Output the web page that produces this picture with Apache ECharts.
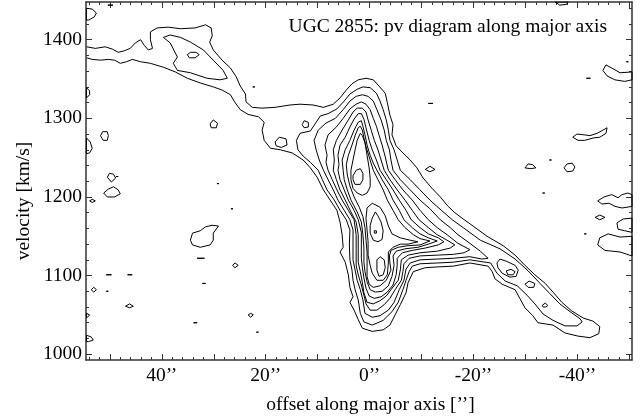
<!DOCTYPE html>
<html><head><meta charset="utf-8">
<script src="https://cdn.jsdelivr.net/npm/echarts@6/dist/echarts.min.js"></script>
<style>html,body{margin:0;padding:0;background:#fff}#c{width:641px;height:419px}</style>
</head><body><div id="c"></div>
<script>
// ---------------- axis values ----------------
const offsetRange = [-50.5, 54.6];
const velocityRange = [992.6, 1448];
const offsetLabels = [40, 20, 0, -20, -40];
const offsetMajorTicks = [50, 40, 30, 20, 10, 0, -10, -20, -30, -40, -50];
const velocityLabels = [1000, 1100, 1200, 1300, 1400];

// ---------------- contours [offset ", velocity km/s] ----------------
// lowest level: arm + body + tail (open at left edge)
const level1 = [[54.5,1391],[52.8,1389],[50.9,1391],[49.5,1388],[48.4,1384],[47.2,1386],[46.1,1389],[45.1,1396],[44.1,1400],[43.4,1393],[42.6,1387],[41.8,1389],[42.2,1400],[42.2,1410],[40.9,1415],[38.8,1416],[36.4,1414],[33.6,1415],[31.6,1419],[30.5,1415],[30.3,1405],[30.8,1397],[30.1,1387],[28.4,1374],[26.8,1364],[25.7,1353],[24.9,1341],[23.9,1331],[23.8,1321],[22.6,1314],[20.7,1313],[18.2,1314],[15.3,1317],[13.4,1318],[10.9,1317],[8.9,1314],[7.0,1318],[5.7,1326],[4.5,1336],[3.4,1344],[2.2,1349],[0.7,1351],[-0.7,1349],[-1.8,1341],[-3.0,1332],[-3.4,1320],[-3.9,1304],[-4.5,1292],[-4.3,1279],[-5.1,1265],[-6.4,1256],[-7.8,1247],[-9.1,1237],[-10.3,1224],[-12.0,1211],[-13.6,1200],[-15.1,1188],[-16.4,1180],[-18.0,1172],[-19.9,1163],[-22.6,1150],[-25.7,1138],[-28.0,1126],[-29.9,1113],[-31.8,1101],[-33.8,1090],[-35.3,1079],[-37.0,1066],[-38.9,1055],[-41.1,1046],[-43.0,1042],[-44.3,1035],[-44.1,1026],[-42.4,1021],[-40.1,1023],[-37.6,1027],[-35.3,1037],[-32.4,1040],[-31.4,1049],[-29.9,1059],[-28.9,1071],[-28.0,1082],[-25.5,1089],[-24.1,1096],[-23.6,1105],[-22.8,1112],[-19.3,1116],[-16.1,1112],[-13.0,1111],[-10.7,1110],[-8.4,1105],[-7.4,1091],[-7.0,1078],[-5.9,1063],[-4.9,1050],[-3.9,1037],[-2.6,1031],[-0.5,1029],[1.4,1033],[2.2,1044],[3.0,1056],[3.8,1066],[3.2,1073],[3.8,1085],[4.1,1101],[4.7,1117],[5.7,1130],[5.1,1136],[5.3,1152],[5.7,1168],[6.3,1183],[7.6,1196],[8.9,1209],[10.1,1225],[11.4,1237],[12.8,1247],[14.9,1256],[17.2,1260],[19.1,1262],[20.3,1272],[20.7,1285],[20.3,1295],[21.4,1302],[23.4,1305],[24.9,1311],[26.0,1321],[26.8,1330],[28.4,1336],[30.1,1340],[32.6,1345],[35.1,1351],[37.4,1359],[39.7,1365],[42.2,1370],[44.1,1372],[45.7,1375],[46.8,1372],[48.0,1370],[49.1,1374],[50.3,1375],[51.8,1374],[53.4,1375],[54.5,1377]];
const level2 = [[13.8,1260],[14.1,1272],[13.4,1281],[11.4,1284],[10.5,1293],[9.5,1303],[8.0,1306],[6.3,1312],[4.9,1322],[3.8,1331],[2.4,1337],[1.3,1340],[-0.1,1339],[-1.3,1332],[-2.0,1322],[-2.6,1311],[-3.2,1298],[-3.6,1285],[-3.9,1272],[-4.7,1260],[-5.3,1247],[-5.9,1234],[-7.8,1222],[-9.7,1209],[-11.6,1196],[-13.8,1183],[-15.9,1171],[-18.0,1161],[-21.3,1145],[-25.1,1134],[-28.0,1121],[-30.5,1106],[-32.8,1090],[-34.7,1077],[-36.6,1064],[-38.6,1054],[-40.5,1045],[-40.9,1041],[-39.9,1036],[-37.6,1036],[-35.3,1043],[-33.4,1051],[-31.8,1064],[-30.3,1075],[-28.4,1087],[-26.1,1093],[-24.5,1103],[-23.3,1116],[-19.3,1120],[-16.1,1117],[-13.0,1116],[-9.7,1115],[-8.2,1112],[-7.6,1105],[-7.0,1094],[-6.4,1082],[-5.5,1066],[-4.3,1054],[-2.6,1043],[-0.5,1037],[1.1,1041],[1.8,1052],[2.2,1069],[2.8,1082],[3.2,1094],[3.4,1107],[3.8,1120],[3.9,1139],[3.8,1158],[4.5,1171],[5.7,1183],[6.8,1196],[8.2,1209],[9.1,1222],[9.9,1234],[11.4,1244],[12.8,1252]];
const level3 = [[10.3,1260],[10.7,1272],[9.9,1285],[8.4,1294],[6.6,1300],[5.1,1311],[3.8,1322],[2.6,1328],[1.4,1330],[0.3,1328],[-0.7,1322],[-1.4,1311],[-2.2,1298],[-2.8,1285],[-3.2,1272],[-3.8,1260],[-4.1,1247],[-4.5,1234],[-5.9,1222],[-7.8,1209],[-9.7,1196],[-11.6,1185],[-13.6,1171],[-15.5,1161],[-17.0,1152],[-19.3,1141],[-21.3,1131],[-22.8,1122],[-21.6,1121],[-19.3,1124],[-16.1,1122],[-13.0,1121],[-9.7,1120],[-7.8,1116],[-7.0,1108],[-6.6,1094],[-5.7,1082],[-4.7,1066],[-3.6,1056],[-2.0,1049],[-0.5,1047],[0.9,1052],[1.3,1069],[1.8,1082],[2.4,1094],[2.8,1107],[3.2,1120],[3.2,1139],[3.2,1158],[3.8,1171],[4.9,1183],[6.1,1196],[7.0,1209],[8.0,1222],[8.9,1234],[9.7,1247]];
const level4 = [[8.2,1253],[8.6,1266],[8.0,1279],[6.4,1289],[5.1,1300],[3.8,1312],[2.6,1318],[1.6,1321],[0.7,1318],[-0.1,1311],[-0.7,1300],[-1.3,1290],[-1.8,1279],[-2.4,1266],[-3.0,1251],[-3.6,1234],[-4.9,1222],[-6.4,1209],[-8.2,1196],[-9.7,1183],[-11.3,1171],[-13.0,1161],[-14.9,1152],[-17.0,1141],[-19.3,1133],[-18.2,1129],[-16.1,1127],[-13.0,1126],[-9.7,1125],[-7.6,1122],[-6.6,1115],[-6.4,1105],[-6.1,1094],[-4.9,1082],[-3.9,1071],[-2.8,1063],[-1.4,1056],[-0.1,1056],[0.7,1064],[1.1,1075],[1.6,1088],[2.2,1101],[2.6,1113],[2.6,1133],[2.6,1152],[3.0,1171],[4.1,1183],[5.3,1196],[6.3,1209],[7.2,1222],[8.0,1234],[8.4,1244]];
const level5 = [[6.8,1247],[7.0,1260],[6.4,1272],[5.3,1285],[4.1,1298],[3.2,1308],[2.4,1313],[1.4,1313],[0.7,1308],[0.3,1298],[-0.3,1285],[-0.9,1272],[-1.6,1260],[-2.2,1247],[-2.8,1234],[-3.9,1222],[-5.3,1209],[-6.8,1196],[-8.2,1183],[-9.5,1171],[-11.3,1161],[-13.0,1152],[-14.9,1145],[-16.4,1139],[-15.5,1135],[-13.0,1131],[-9.7,1129],[-7.4,1126],[-6.1,1120],[-5.9,1107],[-5.5,1094],[-4.1,1082],[-3.2,1074],[-2.0,1068],[-0.7,1064],[0.5,1066],[1.1,1078],[1.4,1091],[1.8,1105],[2.2,1117],[2.2,1135],[2.2,1152],[2.6,1168],[3.6,1181],[4.7,1196],[5.7,1209],[6.4,1222],[7.0,1234]];
const level6 = [[5.9,1241],[6.1,1253],[5.7,1266],[4.7,1276],[3.8,1289],[3.0,1299],[2.2,1306],[1.6,1306],[1.1,1299],[0.7,1288],[0.1,1272],[-0.5,1260],[-1.3,1247],[-2.0,1234],[-3.2,1222],[-4.5,1209],[-5.7,1196],[-7.0,1183],[-8.0,1171],[-9.7,1161],[-11.3,1153],[-13.2,1148],[-14.3,1143],[-13.2,1139],[-10.7,1135],[-8.2,1132],[-6.3,1129],[-5.3,1122],[-5.3,1113],[-5.1,1101],[-4.5,1088],[-3.4,1079],[-2.2,1073],[-0.9,1071],[0.1,1074],[0.7,1084],[1.1,1097],[1.4,1110],[1.6,1122],[1.6,1139],[1.6,1155],[2.2,1171],[3.0,1183],[4.1,1196],[4.9,1209],[5.7,1222],[6.1,1234]];
const level7 = [[5.1,1234],[5.3,1247],[4.7,1260],[3.8,1272],[3.0,1285],[2.2,1295],[1.6,1297],[1.3,1290],[0.9,1279],[0.5,1266],[-0.1,1253],[-0.7,1243],[-1.4,1234],[-2.4,1222],[-3.6,1209],[-4.5,1196],[-5.7,1183],[-6.6,1171],[-8.2,1161],[-9.7,1153],[-11.3,1148],[-13.0,1144],[-11.3,1140],[-9.3,1136],[-6.8,1134],[-5.1,1131],[-4.5,1125],[-4.7,1113],[-4.3,1099],[-3.6,1087],[-2.4,1080],[-1.1,1079],[-0.1,1082],[0.5,1092],[0.9,1105],[1.1,1117],[1.1,1135],[1.3,1152],[1.6,1168],[2.4,1181],[3.6,1196],[4.3,1209],[4.9,1222]];
const level8 = [[4.3,1228],[4.5,1241],[4.1,1253],[3.4,1266],[2.8,1278],[2.2,1288],[1.8,1290],[1.4,1285],[1.1,1275],[0.7,1264],[0.1,1251],[-0.7,1234],[-1.6,1222],[-2.6,1209],[-3.4,1196],[-4.5,1183],[-5.5,1171],[-6.8,1161],[-8.4,1152],[-9.7,1147],[-11.6,1144],[-9.7,1139],[-7.4,1138],[-5.5,1136],[-4.1,1132],[-3.8,1125],[-3.9,1116],[-4.1,1107],[-3.2,1094],[-2.0,1087],[-0.7,1085],[0.1,1089],[0.5,1099],[0.5,1112],[0.5,1130],[0.7,1145],[0.9,1161],[1.3,1175],[2.0,1187],[3.0,1200],[3.8,1214]];
const level9Upper = [[1.8,1281],[2.4,1272],[2.8,1260],[3.2,1247],[3.6,1234],[3.6,1222],[3.2,1211],[2.4,1205],[1.4,1202],[0.5,1205],[-0.1,1213],[-0.1,1224],[0.1,1237],[0.5,1253],[0.9,1269],[1.4,1278]];
const level9Lower = [[-0.5,1192],[0.5,1186],[0.7,1173],[0.5,1158],[0.3,1143],[0.3,1126],[-0.1,1113],[-0.5,1103],[-1.4,1094],[-2.6,1094],[-3.4,1101],[-3.6,1116],[-3.6,1130],[-4.5,1136],[-5.9,1140],[-7.4,1140],[-9.3,1143],[-7.8,1145],[-5.9,1148],[-4.3,1153],[-3.6,1163],[-3.0,1176],[-2.0,1187]];
const peakUpper = [[3.2,1227],[2.6,1234],[1.8,1236],[1.3,1230],[1.3,1222],[1.8,1216],[2.8,1216],[3.2,1222]];
const peakMiddle = [[-1.1,1181],[-0.5,1173],[-0.1,1164],[-0.1,1154],[-0.7,1145],[-1.6,1143],[-2.4,1146],[-2.6,1157],[-2.2,1168],[-1.6,1176]];
const peakMiddleCore = [[-0.9,1157],[-1.3,1157],[-1.3,1154],[-0.9,1154]];
const peakLower = [[-1.4,1120],[-2.0,1124],[-2.8,1120],[-3.0,1110],[-2.6,1101],[-1.8,1099],[-1.4,1107]];

// arm inner levels
const armLevel2 = [[39.7,1403],[38.4,1406],[36.4,1403],[34.5,1397],[32.0,1387],[30.1,1374],[28.2,1361],[27.4,1351],[28.8,1349],[31.3,1351],[34.5,1358],[37.0,1361],[37.8,1370],[37.0,1378],[38.4,1396]];
const armLevel3 = [[35.1,1381],[34.5,1384],[33.4,1384],[32.8,1381],[33.6,1377],[34.7,1377]];
// small closed levels near body and in the tail
const bodyKnots = [
  [[13.0,1292],[12.6,1297],[11.8,1295],[11.8,1289],[12.6,1288]],
  [[18.2,1270],[17.4,1276],[16.1,1274],[15.9,1266],[17.0,1263],[18.0,1265]]
];
const tailKnots = [
  [[-24.5,1116],[-25.1,1121],[-26.4,1118],[-28.0,1113],[-28.6,1107],[-28.2,1099],[-27.0,1098],[-25.5,1103],[-24.7,1110]],
  [[-26.3,1106],[-27.2,1108],[-28.0,1105],[-27.6,1101],[-26.6,1101]],
  [[-29.9,1089],[-30.7,1093],[-31.8,1090],[-31.6,1085],[-30.5,1085]],
  [[-33.2,1062],[-33.8,1065],[-34.3,1062],[-33.9,1060],[-33.4,1060]]
];
// noise islands
const noiseLeft = [
  [[54.5,1440],[53.4,1439],[52.6,1434],[53.0,1429],[54.1,1425],[54.5,1425]],
  [[50.4,1444],[49.4,1444]],
  [[54.5,1339],[53.9,1335],[53.9,1330],[54.5,1326]],
  [[54.5,1275],[53.8,1270],[53.4,1262],[53.9,1256],[54.5,1255]],
  [[51.8,1278],[51.4,1283],[50.5,1283],[50.3,1278],[50.5,1272],[51.3,1272]],
  [[50.5,1225],[50.1,1230],[49.3,1229],[48.9,1224],[49.7,1219]],
  [[48.8,1226],[48.4,1226]],
  [[51.2,1205],[50.3,1210],[49.3,1213],[48.4,1209],[48.0,1204],[49.1,1200],[50.5,1200]],
  [[53.9,1195],[53.4,1197],[52.8,1195],[53.4,1193]],
  [[50.7,1101],[49.7,1101]],
  [[46.6,1101],[45.7,1101]],
  [[53.6,1082],[53.1,1085],[52.6,1082],[53.1,1079]],
  [[50.7,1080],[50.3,1080]],
  [[47.0,1061],[46.2,1064],[45.5,1061],[46.2,1059]],
  [[54.5,1052],[53.9,1050],[54.5,1046]],
  [[54.5,1024],[53.6,1022],[53.2,1018],[54.1,1016],[54.5,1016]]
];
const noiseMiddle = [
  [[22.5,1340],[22.1,1340]],
  [[30.7,1293],[30.1,1298],[29.3,1294],[29.5,1288],[30.5,1288]],
  [[29.4,1217],[29.0,1217]],
  [[26.7,1185],[26.3,1185]],
  [[34.5,1145],[34.1,1154],[32.6,1157],[31.6,1162],[30.3,1164],[29.1,1163],[30.1,1154],[30.1,1145],[30.7,1139],[32.6,1136],[34.1,1139]],
  [[33.2,1122],[31.8,1122]],
  [[26.4,1113],[25.9,1116],[25.3,1113],[25.9,1110]],
  [[32.2,1090],[31.6,1090]],
  [[33.9,1040],[33.2,1040]],
  [[23.4,1050],[22.9,1052],[22.4,1050],[22.9,1047]],
  [[21.8,1028],[21.4,1028]]
];
const noiseRight = [
  [[-11.3,1319],[-12.2,1319]],
  [[-10.7,1235],[-11.6,1239],[-12.6,1235],[-11.6,1232]],
  [[-29.9,1237],[-30.5,1242],[-31.4,1241],[-32.0,1237],[-30.9,1236]],
  [[-34.6,1247],[-35.0,1247]],
  [[-37.4,1237],[-38.0,1242],[-39.0,1243],[-39.5,1238],[-39.1,1233],[-38.0,1232]],
  [[-33.3,1205],[-33.7,1205]],
  [[-41.3,1153],[-41.7,1153]],
  [[-50.5,1203],[-49.7,1205],[-48.6,1203],[-47.8,1199],[-46.6,1203],[-45.1,1200],[-43.9,1195],[-44.7,1191],[-46.1,1192],[-47.2,1188],[-48.6,1186],[-50.5,1188]],
  [[-43.4,1174],[-44.3,1177],[-45.3,1174],[-44.3,1171]],
  [[-50.5,1173],[-48.8,1172],[-47.6,1167],[-47.8,1159],[-49.1,1157],[-50.5,1155]],
  [[-50.5,1150],[-48.2,1149],[-45.9,1153],[-44.3,1148],[-43.9,1139],[-45.3,1132],[-48.2,1130],[-50.5,1125]],
  [[-41.7,1351],[-42.5,1351]],
  [[-50.5,1359],[-48.2,1358],[-46.6,1364],[-45.5,1368],[-44.9,1361],[-45.7,1354],[-47.2,1349],[-49.1,1347],[-50.5,1349]],
  [[-49.4,1372],[-49.8,1372]],
  [[-39.1,1276],[-39.9,1280],[-41.3,1279],[-42.4,1278],[-43.8,1281],[-44.9,1285],[-45.7,1288],[-45.5,1281],[-44.3,1276],[-43.0,1275],[-41.4,1272],[-40.1,1272]],
  [[-35.7,1448],[-36.6,1444],[-37.9,1445],[-38.2,1448]]
];

// ---------------- build chart ----------------
const FONT = '"Liberation Serif", "Times New Roman", Times, serif';
const FS = 19.5;
const AXC = '#333';

const offsetMinorTicks = [];
for (let v = -50; v <= 54; v += 2) offsetMinorTicks.push(v);
const velocityMinorTicks = [];
for (let v = 1000; v <= 1440; v += 20) velocityMinorTicks.push(v);

const series = [];
function addPath(pts, closed, w) {
  series.push({
    type: 'line', xAxisIndex: 0, yAxisIndex: 0,
    data: closed ? pts.concat([pts[0]]) : pts,
    symbol: 'none', showSymbol: false, silent: true, clip: true,
    lineStyle: { color: '#000', width: w || 1 }, z: 5
  });
}
addPath(level1, false);
[level2, level3, level4, level5, level6, level7, level8, level9Upper, level9Lower,
 peakUpper, peakMiddle, peakMiddleCore, peakLower, armLevel2, armLevel3].forEach(c => addPath(c, true));
bodyKnots.concat(tailKnots, noiseLeft, noiseMiddle, noiseRight).forEach(c => addPath(c, true));

function xAx(pos, ticks, len, labels, line) {
  return {
    type: 'value', gridIndex: 0, position: pos, min: offsetRange[0], max: offsetRange[1], inverse: true,
    axisLine: { show: line, onZero: false, lineStyle: { color: AXC, width: 1.5 } },
    axisTick: { show: true, inside: true, length: len, customValues: ticks, lineStyle: { color: AXC, width: 1 } },
    axisLabel: labels ? { show: true, customValues: labels, formatter: v => String(v) + '\u2019\u2019', margin: 6,
      color: '#000', fontFamily: FONT, fontSize: FS } : { show: false },
    splitLine: { show: false }
  };
}
function yAx(pos, ticks, len, labels, line) {
  return {
    type: 'value', gridIndex: 0, position: pos, min: velocityRange[0], max: velocityRange[1],
    axisLine: { show: line, onZero: false, lineStyle: { color: AXC, width: 1.5 } },
    axisTick: { show: true, inside: true, length: len, customValues: ticks, lineStyle: { color: AXC, width: 1 } },
    axisLabel: labels ? { show: true, customValues: labels, margin: 4, formatter: v => String(v),
      color: '#000', fontFamily: FONT, fontSize: FS } : { show: false },
    splitLine: { show: false }
  };
}

const chart = echarts.init(document.getElementById('c'), null, { renderer: 'canvas' });
chart.setOption({
  animation: false,
  backgroundColor: '#fff',
  grid: { left: 86, right: 9, top: 2, bottom: 59, containLabel: false },
  xAxis: [
    xAx('bottom', offsetMajorTicks, 6, offsetLabels, true),
    xAx('bottom', offsetMinorTicks, 3, null, false),
    xAx('top', offsetMajorTicks, 6, null, true),
    xAx('top', offsetMinorTicks, 3, null, false)
  ],
  yAxis: [
    yAx('left', velocityLabels, 6, velocityLabels, true),
    yAx('left', velocityMinorTicks, 3, null, false),
    yAx('right', velocityLabels, 6, null, true),
    yAx('right', velocityMinorTicks, 3, null, false)
  ],
  graphic: [
    { type: 'text', x: 607, y: 27, z: 10,
      style: { text: 'UGC 2855: pv diagram along major axis', align: 'right', verticalAlign: 'middle',
        font: FS + 'px ' + FONT, fill: '#000' } },
    { type: 'text', x: 24, y: 201, rotation: Math.PI / 2, z: 10,
      style: { text: 'velocity [km/s]', align: 'center', verticalAlign: 'middle',
        font: FS + 'px ' + FONT, fill: '#000' } },
    { type: 'text', x: 370.5, y: 405, z: 10,
      style: { text: 'offset along major axis [\u2019\u2019]', align: 'center', verticalAlign: 'middle',
        font: FS + 'px ' + FONT, fill: '#000' } }
  ],
  series: series
});
</script></body></html>
